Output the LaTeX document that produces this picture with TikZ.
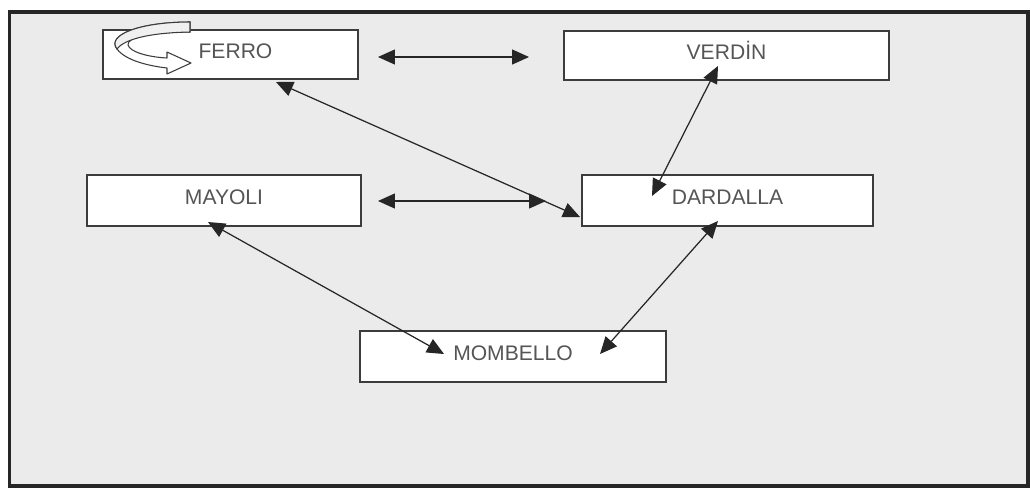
\documentclass[tikz,border=0pt]{standalone}
\usepackage{fontspec}
\setmainfont{Liberation Sans}
\usepackage{tikz}
\usetikzlibrary{arrows.meta, calc}

\definecolor{panel}{HTML}{EBEBEB}
\definecolor{rim}{HTML}{262626}
\definecolor{edge}{HTML}{3C3C3C}
\definecolor{ink}{HTML}{555555}

\begin{document}
\begin{tikzpicture}[x=0.02cm, y=-0.02cm,
    firm/.style = {rectangle, draw = edge, fill = white, line width = 0.04cm, inner sep = 0pt,
                   text = ink, font = \fontsize{12}{14}\selectfont, text height = 0.302cm, text depth = 0.16cm},
    link/.style = {{Triangle[length = 0.34cm, width = 0.3cm]}-{Triangle[length = 0.34cm, width = 0.3cm]},
                   draw = rim, line width = 0.7pt}]
    \useasboundingbox (0,0) rectangle (1030,488);
    \draw [rim, fill = panel, line width = 0.08cm] (9.5,11.5) rectangle (1028,486);

    % firms
    \node (ferro) [firm, minimum width = 5.1cm, minimum height = 0.98cm] at (230.5,54.5) {\hspace{0.2cm}FERRO};
    \node (verdin) [firm, minimum width = 6.5cm, minimum height = 0.98cm] at (726.5,55.5) {VERDİN};
    \node (mayoli) [firm, minimum width = 5.48cm, minimum height = 1.02cm] at (224,200.5) {MAYOLI};
    \node (dardalla) [firm, minimum width = 5.82cm, minimum height = 1.02cm] at (727.5,200.5) {DARDALLA};
    \node (mombello) [firm, minimum width = 6.12cm, minimum height = 1.02cm] at (513,356.5) {MOMBELLO};

    % self loop on ferro
    \draw [edge, fill = white, line width = 0.6pt, line join = round]
        (190,22) .. controls (140,22) and (106,35) .. (117,49)
        .. controls (126,61) and (150,66) .. (167,68) -- (167,74) -- (191,63) -- (167,52) -- (167,58)
        .. controls (148,57) and (130,52) .. (128,45)
        .. controls (127,37) and (150,32) .. (190,32) -- cycle;
    \draw [edge, fill = gray!12, line width = 0.6pt]
        (190,22) .. controls (140,22) and (106,35) .. (117,49)
        .. controls (122,42) and (140,33) .. (190,32) -- cycle;

    % links
    \draw [link] ($(ferro.east)+(19,2.5)$) -- ($(verdin.west)+(-34,1.5)$);
    \draw [link] ($(mayoli.east)+(16,0.5)$) -- ($(dardalla.west)+(-35,0.5)$);
    \draw [link] ($(ferro.south)+(45.5,2)$) -- ($(dardalla.west)+(-1,16.5)$);
    \draw [link] ($(verdin.south)+(-8.5,-15)$) -- ($(dardalla.north)+(-75.5,22)$);
    \draw [link] ($(mayoli.south)+(-16,-5)$) -- ($(mombello.north)+(-69,24)$);
    \draw [link] ($(dardalla.south)+(-9.5,-6)$) -- ($(mombello.north)+(87,24)$);
\end{tikzpicture}
\end{document}
